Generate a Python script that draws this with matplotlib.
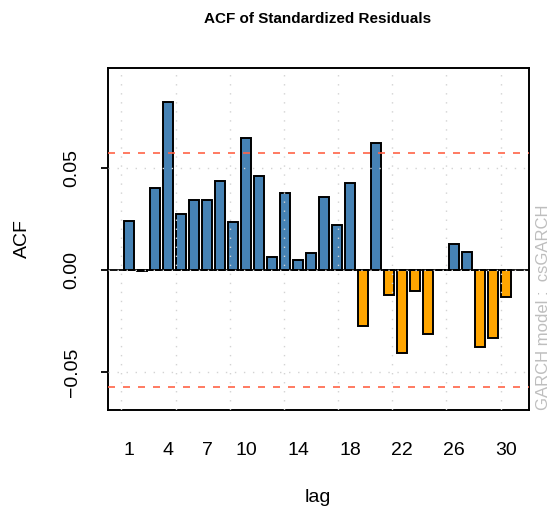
import matplotlib
matplotlib.use("Agg")
import matplotlib.pyplot as plt
import numpy as np

plt.rcParams['font.family'] = ['Liberation Sans', 'DejaVu Sans']

lags = list(range(1, 31))
acf_vals = [0.0240, -0.0007, 0.0404, 0.0822, 0.0276, 0.0345, 0.0345, 0.0435, 0.0237, 0.0647,
            0.0462, 0.0064, 0.0376, 0.0047, 0.0085, 0.0359, 0.0221, 0.0428, -0.0275, 0.0621,
            -0.0123, -0.0405, -0.0101, -0.0315, 0.0000, 0.0129, 0.0087, -0.0379, -0.0335, -0.0134]
shown_lag_labels = [1, 4, 7, 10, 14, 18, 22, 26, 30]
conf_limit = 0.0572
y_ticks = [-0.05, 0.0, 0.05]
y_tick_labels = ["\u22120.05", "0.00", "0.05"]

W, H = 553, 515
fig = plt.figure(figsize=(W / 100, H / 100), dpi=100)
ax = fig.add_axes([108 / W, (H - 410) / H, 421 / W, 342 / H])

# barplot coordinates (width 1, space 0.2)
centers = np.array([1.2 * l - 0.5 for l in lags])
colors = ['#4682B4' if v > 0 else '#FFA500' for v in acf_vals]
ax.bar(centers, acf_vals, width=1.0, color=colors, edgecolor='black', linewidth=1.4, zorder=2)

ax.set_xlim(-1.24, 37.62)
ax.set_ylim(-0.0686, 0.099)

# confidence lines
for c in (conf_limit, -conf_limit):
    ax.axhline(c, color='#FF6347', lw=1.2, linestyle=(0, (4.2, 4.8)), zorder=3)
ax.axhline(0, color='black', lw=1.3, zorder=3)

# grid (drawn on top, as R's grid())
for gx in np.arange(0, 36, 5):
    ax.axvline(gx, color='#D3D3D3', lw=1.0, linestyle=(0, (1, 5.5)), zorder=4)
for gy in y_ticks:
    ax.axhline(gy, color='#D3D3D3', lw=1.0, linestyle=(0, (1, 5.5)), zorder=4)

# x labels
ax.set_xticks([1.2 * l - 0.5 for l in shown_lag_labels])
ax.set_xticklabels([str(l) for l in shown_lag_labels], fontsize=14)
ax.tick_params(axis='x', length=0, pad=23)

# y ticks
ax.set_yticks(y_ticks)
ax.set_yticklabels([])
ax.tick_params(axis='y', length=5, width=1.3, direction='out')
for yv, lab in zip(y_ticks, y_tick_labels):
    ax.text(72 / W, yv, lab, transform=matplotlib.transforms.blended_transform_factory(fig.transFigure, ax.transData),
            rotation=90, ha='center', va='center', fontsize=14, rotation_mode='anchor')

for s in ax.spines.values():
    s.set_linewidth(1.4)

fig.text(22 / W, 1 - 239 / H, "ACF", rotation=90, ha='center', va='center', fontsize=14)
fig.text(318 / W, 1 - 497 / H, "lag", ha='center', va='center', fontsize=14)
fig.text(318 / W, 1 - 19 / H, "ACF of Standardized Residuals", ha='center', va='center',
         fontsize=11, fontweight='bold')
fig.text(543 / W, 1 - 410 / H, "GARCH model :  csGARCH", rotation=90, ha='center', va='bottom',
         fontsize=12, color='#BEBEBE')

fig.savefig("out.png", dpi=100)
